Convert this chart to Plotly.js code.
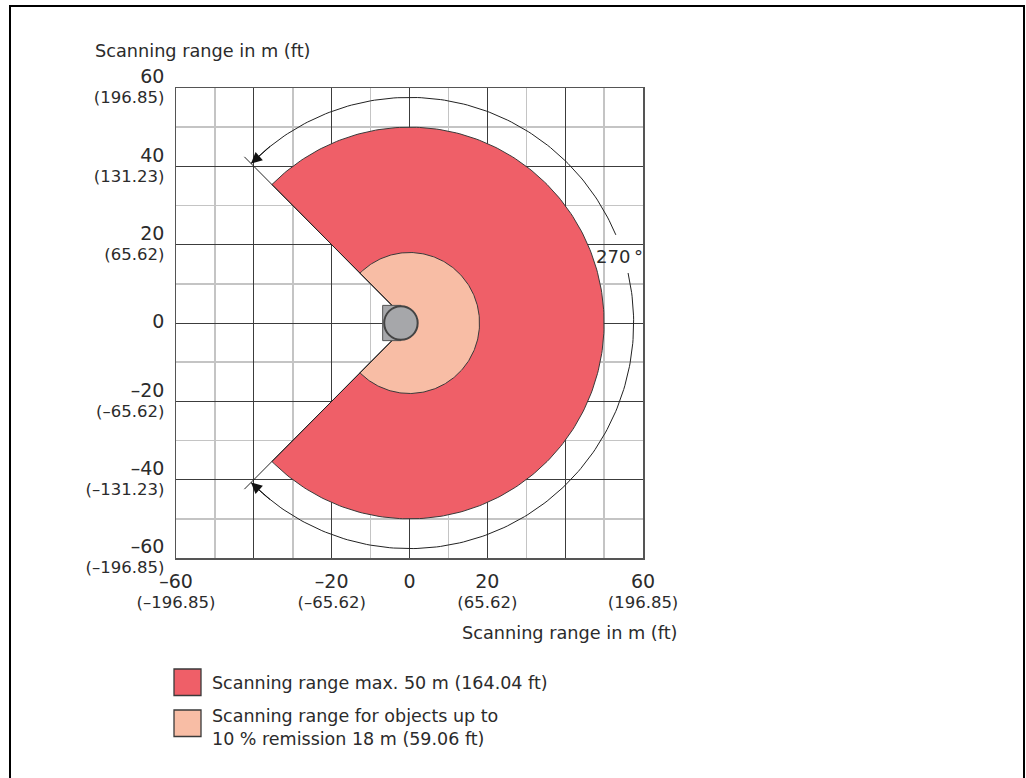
<!DOCTYPE html>
<html>
<head>
<meta charset="utf-8">
<script src="https://cdn.plot.ly/plotly-3.0.1.min.js"></script>
<style>html,body{margin:0;padding:0;background:#fff;}#chart{width:1026px;height:778px;}</style>
</head>
<body>
<div id="chart"></div>
<script>
// ---------------- data ----------------
const zoneNames = [
  "Scanning range max. 50 m (164.04 ft)",
  "Scanning range for objects up to<br>10 % remission 18 m (59.06 ft)"
];
const zoneRadius = [50, 18];          // m
const scanAngle = [-135, 135];        // degrees, aperture edges (270°)
const apertureLabel = "270\u2009°";
const axisTitle = "Scanning range in m (ft)";

const xTickVals   = [-60, -40, -20, 0, 20, 40, 60];
const xTickMeters = ["–60", "", "–20", "0", "20", "", "60"];
const xTickFeet   = ["(–196.85)", "", "(–65.62)", "", "(65.62)", "", "(196.85)"];

const yTickVals   = [-60, -40, -20, 0, 20, 40, 60];
const yTickMeters = ["–60", "–40", "–20", "0", "20", "40", "60"];
const yTickFeet   = ["(–196.85)", "(–131.23)", "(–65.62)", "", "(65.62)", "(131.23)", "(196.85)"];

const minorVals = [-50, -30, -10, 10, 30, 50];

// ---------------- geometry helpers ----------------
const D2R = Math.PI / 180;
function arcPts(r, a0, a1, step) {
  const xs = [], ys = [];
  const n = Math.max(2, Math.ceil(Math.abs(a1 - a0) / step));
  for (let i = 0; i <= n; i++) {
    const a = (a0 + (a1 - a0) * i / n) * D2R;
    xs.push(r * Math.cos(a)); ys.push(r * Math.sin(a));
  }
  return {x: xs, y: ys};
}
function sector(r, a0, a1) {
  const p = arcPts(r, a0, a1, 1);
  return {x: [0].concat(p.x, [0]), y: [0].concat(p.y, [0])};
}

const fillColors = ["#EF5F68", "#F8BDA5"];
const outline = "#3a3a3a";
const txt = "#2b2b2b";

// plot-area pixel frame (for paper coords of decorations)
const L = 176, R = 643, T = 88, B = 558;
const W = 1026, H = 778;
const px = p => (p - L) / (R - L);
const py = p => (B - p) / (B - T);

const traces = [];
zoneRadius.forEach((r, i) => {
  const s = sector(r, scanAngle[0], scanAngle[1]);
  traces.push({
    type: "scatter", mode: "lines", x: s.x, y: s.y,
    fill: "toself", fillcolor: fillColors[i],
    line: {color: outline, width: 1}, hoverinfo: "skip", showlegend: false, name: zoneNames[i]
  });
});

// aperture edge lines
const edgeR = 60;
scanAngle.forEach(a => {
  traces.push({
    type: "scatter", mode: "lines",
    x: [0, edgeR * Math.cos(a * D2R)], y: [0, edgeR * Math.sin(a * D2R)],
    line: {color: "#222", width: 1}, hoverinfo: "skip", showlegend: false
  });
});

// dimension arc (with gap for the label)
const arcR = 57.6;
const gapA = [23, 12.8];
const arcA = arcPts(arcR, scanAngle[1], gapA[0], 1);
const arcB = arcPts(arcR, gapA[1], scanAngle[0], 1);
[arcA, arcB].forEach(p => traces.push({
  type: "scatter", mode: "lines", x: p.x, y: p.y,
  line: {color: "#222", width: 1}, hoverinfo: "skip", showlegend: false
}));

const annotations = [];
// arrowheads at aperture edges
[[scanAngle[1], scanAngle[1] - 7], [scanAngle[0], scanAngle[0] + 7]].forEach(([tip, tail]) => {
  annotations.push({
    x: arcR * Math.cos(tip * D2R), y: arcR * Math.sin(tip * D2R),
    ax: arcR * Math.cos(tail * D2R), ay: arcR * Math.sin(tail * D2R),
    xref: "x", yref: "y", axref: "x", ayref: "y",
    text: "", showarrow: true, arrowhead: 2, arrowsize: 2.2, arrowwidth: 1,
    arrowcolor: "#111", standoff: 0
  });
});
// 270° label
annotations.push({
  x: 53.9, y: 17.0, xref: "x", yref: "y", text: apertureLabel, showarrow: false,
  font: {family: "DejaVu Sans", size: 18, color: txt}, xanchor: "center", yanchor: "middle"
});
// axis titles
annotations.push({
  x: px(93), y: py(51), xref: "paper", yref: "paper", text: axisTitle, showarrow: false,
  xanchor: "left", yanchor: "middle", font: {family: "DejaVu Sans", size: 17.7, color: txt}
});
annotations.push({
  x: px(680), y: py(633), xref: "paper", yref: "paper", text: axisTitle, showarrow: false,
  xanchor: "right", yanchor: "middle", font: {family: "DejaVu Sans", size: 17.7, color: txt}
});

// legend (custom, square swatches)
const shapes = [];
const legendTop = [669, 710];
const legendTextY = [683, 727.5];
zoneNames.forEach((name, i) => {
  shapes.push({
    type: "rect", xref: "paper", yref: "paper",
    x0: px(174), x1: px(201), y0: py(legendTop[i]), y1: py(legendTop[i] + 26.5),
    fillcolor: fillColors[i], line: {color: outline, width: 1.3}
  });
  annotations.push({
    x: px(210), y: py(legendTextY[i]), xref: "paper", yref: "paper", text: name,
    showarrow: false, xanchor: "left", yanchor: "middle", align: "left",
    font: {family: "DejaVu Sans", size: 17.5, color: txt}
  });
});

// sensor icon
const sensorX = -2.2, sensorR = 4.3;
shapes.push({type: "rect", xref: "x", yref: "y", x0: -6.9, x1: sensorX, y0: -4.5, y1: 4.5,
  fillcolor: "#A6A7AA", line: {color: "#555", width: 1}});
shapes.push({type: "circle", xref: "x", yref: "y",
  x0: sensorX - sensorR, x1: sensorX + sensorR, y0: -sensorR, y1: sensorR,
  fillcolor: "#A6A7AA", line: {color: "#444", width: 2}});

// outer frame (open at bottom)
shapes.push({type: "path", xref: "paper", yref: "paper",
  path: `M${px(10)},${py(H + 20)} L${px(10)},${py(6)} L${px(1024)},${py(6)} L${px(1024)},${py(H + 20)}`,
  line: {color: "#000", width: 2}});

function tickText(m, f) {
  return m.map((v, i) => v === "" ? "" :
    (f[i] ? `<span style="font-size:19px">${v}</span><br><span style="font-size:16.5px">${f[i]}</span>`
          : `<span style="font-size:19px">${v}</span>`));
}

const axisCommon = {
  range: [-60, 60], fixedrange: true,
  showgrid: true, gridcolor: "#3c3c3c", gridwidth: 1,
  zeroline: false, showline: true, mirror: true, linecolor: "#555", linewidth: 1.5,
  ticks: "", tickfont: {family: "DejaVu Sans", size: 15.5, color: txt},
  minor: {tickmode: "array", tickvals: minorVals, showgrid: true, gridcolor: "#c4c4c4", gridwidth: 1.5, ticks: ""}
};

const layout = {
  width: W, height: H,
  margin: {l: L, r: W - R, t: T, b: H - B, pad: 0},
  paper_bgcolor: "#fff", plot_bgcolor: "#fff",
  showlegend: false,
  xaxis: Object.assign({}, axisCommon, {
    tickmode: "array", tickvals: xTickVals, ticktext: tickText(xTickMeters, xTickFeet),
    ticklabelstandoff: 10
  }),
  yaxis: Object.assign({}, axisCommon, {
    tickmode: "array", tickvals: yTickVals, ticktext: tickText(yTickMeters, yTickFeet),
    ticklabelstandoff: 7
  }),
  annotations: annotations,
  shapes: shapes,
  font: {family: "DejaVu Sans", color: txt}
};

Plotly.newPlot("chart", traces, layout, {staticPlot: true, displayModeBar: false});
</script>
</body>
</html>
